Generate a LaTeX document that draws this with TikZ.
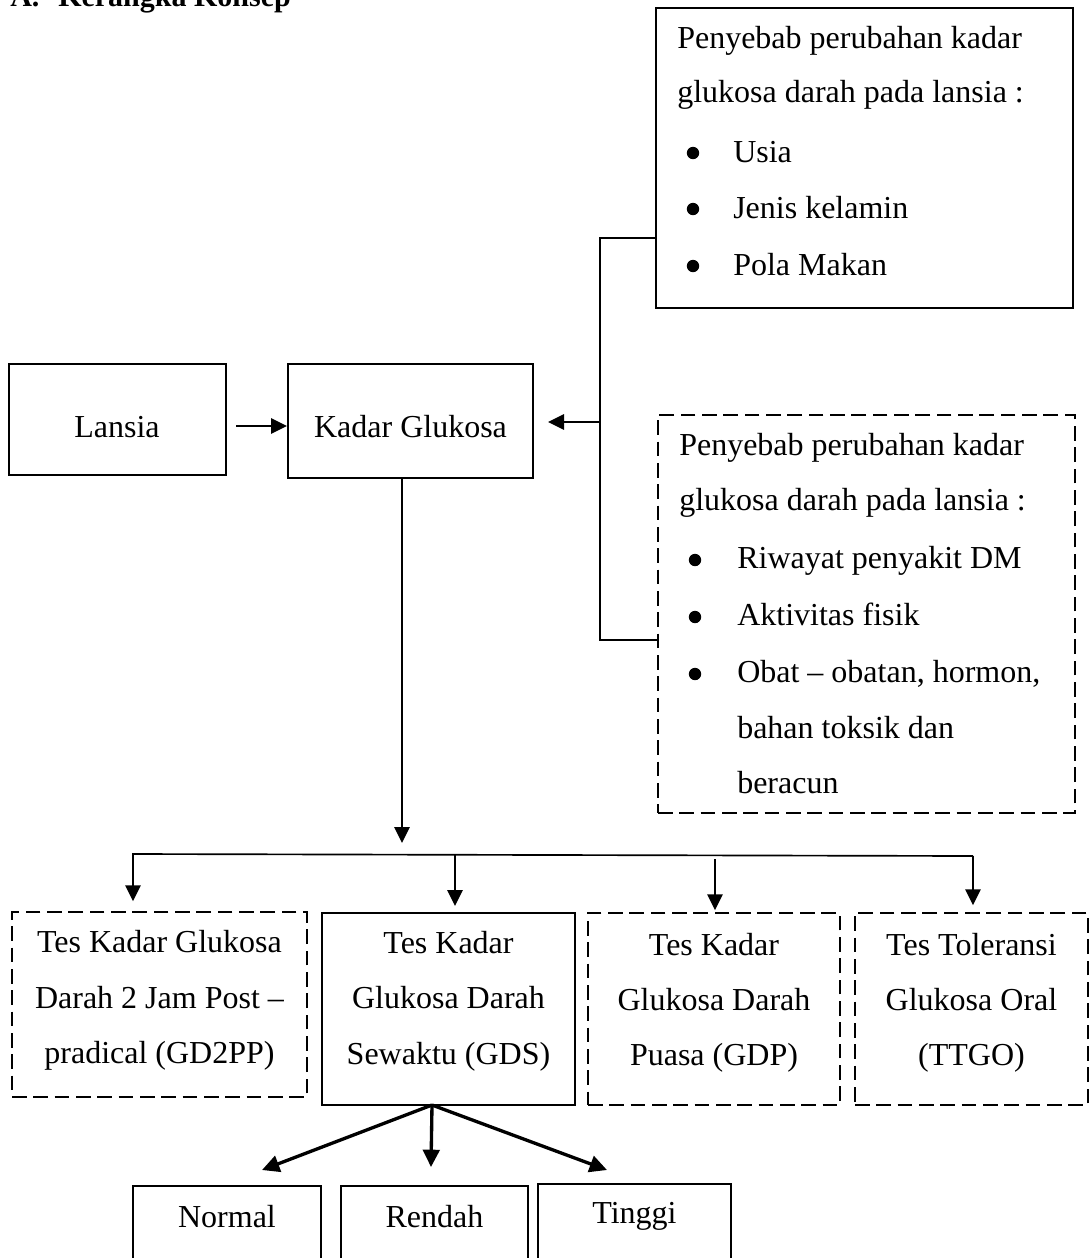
\documentclass[tikz,border=0pt]{standalone}
\usepackage{fontspec}
\setmainfont{Liberation Serif}
\usetikzlibrary{arrows.meta,fit}
\begin{document}
\begin{tikzpicture}[x=0.75pt,y=-0.75pt,
  f/.style={font=\fontsize{24}{28}\selectfont, inner sep=0pt},
  tl/.style={f, anchor=base west},
  tc/.style={f, anchor=base},
  bul/.style={circle, fill=black, inner sep=0pt, minimum size=9.3pt},
  bx/.style={draw, line width=1.5pt, inner sep=0pt, rectangle},
  dbx/.style={draw, line width=1.1pt, inner sep=0pt, rectangle, dash pattern=on 11pt off 5pt},
  ln/.style={line width=1.25pt},
  arr/.style={ln, -{Triangle[length=12pt,width=11.5pt]}},
  tarr/.style={line width=2.5pt, -{Triangle[length=13pt,width=12.5pt]}},
  ttl/.style={font=\fontsize{22.5}{26}\selectfont\bfseries, inner sep=0pt, anchor=base west}
]
\useasboundingbox (0,0) rectangle (1091,1258);

% title (cut off at top, as in the reference)
\node[ttl] (tA) at (10,6) {A.};
\node[ttl] (tK) at (58,6) {Kerangka Konsep};

% boxes
\node[bx, fit={(656,8) (1073,308)}] (f1) {};
\node[dbx, fit={(658,415) (1075,813)}] (f2) {};
\node[bx, fit={(9,364) (226,475)}] (lansia) {};
\node[bx, fit={(288,364) (533,478)}] (kadar) {};
\node[dbx, fit={(12,912) (307,1097)}] (gd2pp) {};
\node[bx, fit={(322,913) (575,1105)}] (gds) {};
\node[dbx, fit={(588,913) (840,1105)}] (gdp) {};
\node[dbx, fit={(855,913) (1088,1105)}] (ttgo) {};
\node[bx, fit={(133,1186) (321,1290)}] (normal) {};
\node[bx, fit={(341,1186) (528,1290)}] (rendah) {};
\node[bx, fit={(538,1184) (731,1290)}] (tinggi) {};

% texts: top box
\node[tl] (f1a) at (677,48) {Penyebab perubahan kadar};
\node[tl] (f1b) at (677,102) {glukosa darah pada lansia :};
\node[bul] (f1c1) at (693,153) {};
\node[tl] (f1c) at (733,162) {Usia};
\node[bul] (f1d1) at (693,209) {};
\node[tl] (f1d) at (733,218) {Jenis kelamin};
\node[bul] (f1e1) at (693,266) {};
\node[tl] (f1e) at (733,275) {Pola Makan};

% texts: dashed box
\node[tl] (f2a) at (679,455) {Penyebab perubahan kadar};
\node[tl] (f2b) at (679,510) {glukosa darah pada lansia :};
\node[bul] (f2c1) at (695,560) {};
\node[tl] (f2c) at (737,568) {Riwayat penyakit DM};
\node[bul] (f2d1) at (695,617) {};
\node[tl] (f2d) at (737,625) {Aktivitas fisik};
\node[bul] (f2e1) at (695,674) {};
\node[tl] (f2e) at (737,682) {Obat – obatan, hormon,};
\node[tl] (f2f) at (737,738) {bahan toksik dan};
\node[tl] (f2g) at (737,793) {beracun};

% texts: left
\node[tc] (lansiat) at (117,437) {Lansia};
\node[tc] (kadart) at (410.5,437) {Kadar Glukosa};

% texts: bottom row
\node[tc] (g1a) at (159.5,952) {Tes Kadar Glukosa};
\node[tc] (g1b) at (159.5,1008) {Darah 2 Jam Post –};
\node[tc] (g1c) at (159.5,1063) {pradical (GD2PP)};
\node[tc] (g2a) at (448.5,953) {Tes Kadar};
\node[tc] (g2b) at (448.5,1008) {Glukosa Darah};
\node[tc] (g2c) at (448.5,1064) {Sewaktu (GDS)};
\node[tc] (g3a) at (714,955) {Tes Kadar};
\node[tc] (g3b) at (714,1010) {Glukosa Darah};
\node[tc] (g3c) at (714,1065) {Puasa (GDP)};
\node[tc] (g4a) at (971.5,955) {Tes Toleransi};
\node[tc] (g4b) at (971.5,1010) {Glukosa Oral};
\node[tc] (g4c) at (971.5,1065) {(TTGO)};

\node[tc] (normalt) at (227,1227) {Normal};
\node[tc] (rendaht) at (434.5,1227) {Rendah};
\node[tc] (tinggit) at (634.5,1223) {Tinggi};

% connectors
\draw[arr] ([shift={(9,6.5)}]lansia.east) -- ([shift={(0,5)}]kadar.west);

\coordinate (bt) at (600,238);
\coordinate (bb) at (600,640);
\coordinate (bm) at (600,422);
\draw[ln] (f1.west |- bt) -- (bt) -- (bb) -- (f2.west |- bb);
\draw[arr] (bm) -- ([shift={(14,1)}]kadar.east);

\coordinate (kt) at (402,843);
\draw[arr] (kadar.south -| kt) -- (kt);

\coordinate (b1) at (133,854);
\coordinate (b2) at (455,855);
\coordinate (b3) at (715,855);
\coordinate (b4) at (973,856);
\draw[ln] ([yshift=-3]b1) -- (b1) -- (b4);
\draw[arr, shorten >=7.5pt] (b1) -- (b1 |- gd2pp.north);
\draw[arr, shorten >=4.5pt] (b2) -- (b2 |- gds.north);
\draw[arr, shorten <=3pt, shorten >=1.5pt] (b3) -- (b3 |- gdp.north);
\draw[arr, shorten >=5.25pt] (b4) -- (b4 |- ttgo.north);

\coordinate (gs) at (432,1105);
\coordinate (tn) at (262,1170);
\coordinate (tr) at (431,1167);
\coordinate (tt) at (607,1170);
\draw[tarr] (gs) -- (tn);
\draw[tarr] (gs) -- (tr);
\draw[tarr] (gs) -- (tt);
\end{tikzpicture}
\end{document}
